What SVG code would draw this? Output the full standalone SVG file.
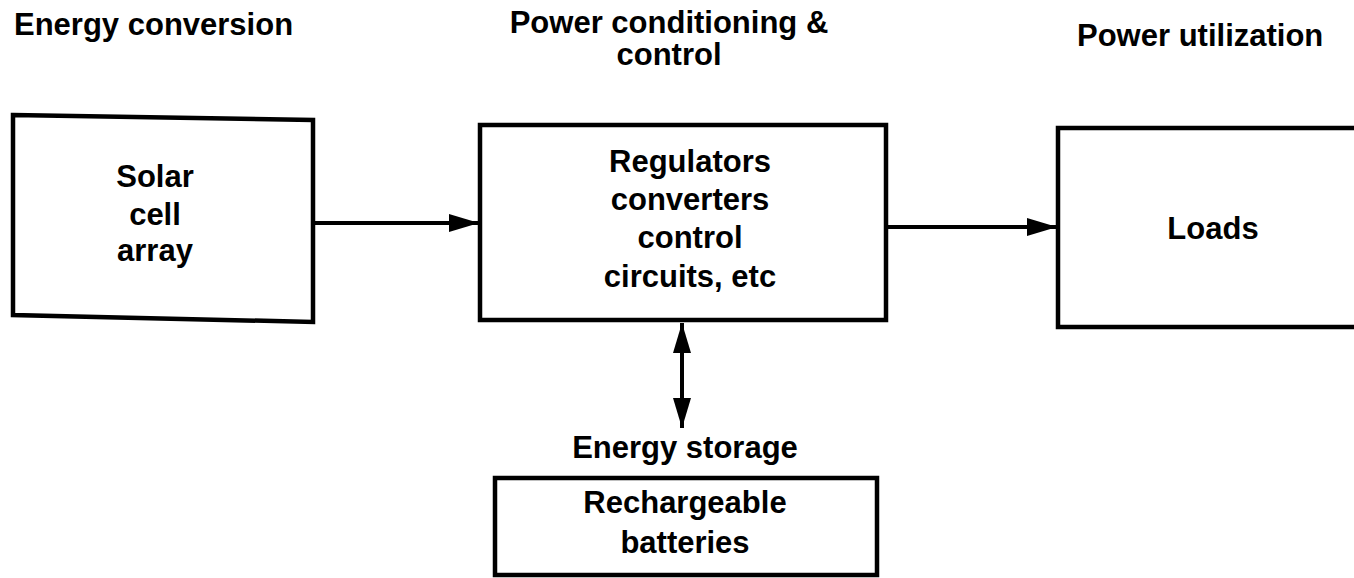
<svg xmlns="http://www.w3.org/2000/svg" width="1354" height="578" viewBox="0 0 1354 578">
<defs>
<style>
.t{font-family:"Liberation Sans",Arial,Helvetica,sans-serif;font-weight:bold;font-size:31px;fill:#000}
.m{text-anchor:middle}
.box{fill:#fff;stroke:#000;stroke-width:4.5}
.ln{fill:none;stroke:#000;stroke-width:4}
</style>
<marker id="ah" viewBox="0 0 30 20" refX="30" refY="10" markerWidth="30" markerHeight="20" markerUnits="userSpaceOnUse" orient="auto-start-reverse">
<path d="M0,1 L30,10 L0,19 Z" fill="#000"/>
</marker>
</defs>
<rect width="1354" height="578" fill="#fff"/>
<g id="headers">
<text class="t" x="14" y="35">Energy conversion</text>
<text class="t m" x="669" y="33">Power conditioning &amp;</text>
<text class="t m" x="669" y="65">control</text>
<text class="t" x="1077" y="46">Power utilization</text>
</g>
<g id="connectors">
<line class="ln" x1="313" y1="223" x2="479" y2="223" marker-end="url(#ah)"/>
<line class="ln" x1="887" y1="227" x2="1057" y2="227" marker-end="url(#ah)"/>
<line class="ln" x1="682" y1="323" x2="682" y2="428" marker-start="url(#ah)" marker-end="url(#ah)"/>
</g>
<g id="solar">
<polygon class="box" points="13,115 313,120 313,322 13,315"/>
<text class="t m" x="155" y="187">Solar</text>
<text class="t m" x="155" y="225">cell</text>
<text class="t m" x="155" y="261">array</text>
</g>
<g id="regulators">
<rect class="box" x="480" y="125" width="406" height="195"/>
<text class="t m" x="690" y="172">Regulators</text>
<text class="t m" x="690" y="210">converters</text>
<text class="t m" x="690" y="248">control</text>
<text class="t m" x="690" y="287">circuits, etc</text>
</g>
<g id="loads">
<rect class="box" x="1058" y="128" width="310" height="199"/>
<text class="t m" x="1213" y="239">Loads</text>
</g>
<g id="storage">
<text class="t m" x="685" y="458">Energy storage</text>
<rect class="box" x="495" y="478" width="382" height="97"/>
<text class="t m" x="685" y="513">Rechargeable</text>
<text class="t m" x="685" y="553">batteries</text>
</g>
</svg>
